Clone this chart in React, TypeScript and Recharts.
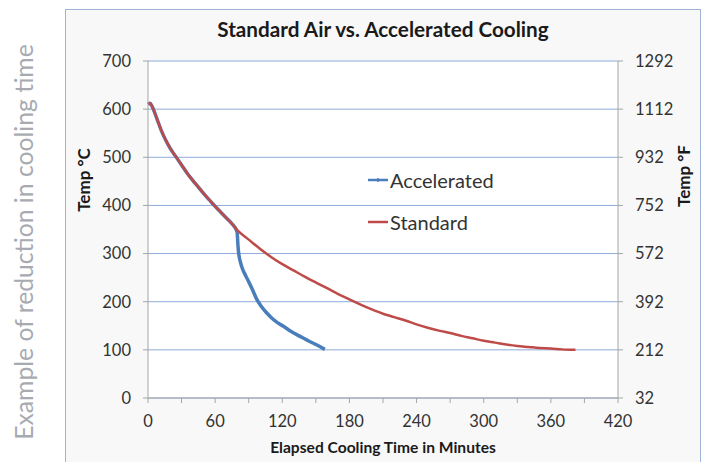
import React from "react";
import {
  LineChart,
  Line,
  XAxis,
  YAxis,
  CartesianGrid,
} from "recharts";

// elapsed minutes / temp °C
const standardTime = [0, 2, 4, 8, 12, 16, 20, 25, 30, 35, 40, 45, 50, 55, 60, 65, 70, 75, 80, 90, 100, 110, 120, 130, 140, 150, 160, 170, 180, 190, 200, 210, 220, 230, 240, 250, 260, 270, 280, 290, 300, 310, 320, 330, 340, 350, 360, 370, 382];
const standardTemp = [610, 612, 604, 580, 555, 535, 518, 501, 484, 467, 452, 438, 424, 411, 398, 386, 374, 362, 348, 329, 310, 293, 278, 265, 252, 240, 228, 216, 205, 194, 184, 175, 168, 161, 153, 146, 140, 135, 129, 124, 119, 115, 111, 108, 106, 104, 103, 101, 100];

const accelTime = [0, 2, 4, 8, 12, 16, 20, 25, 30, 35, 40, 45, 50, 55, 60, 65, 70, 75, 79.5, 80, 80.3, 80.7, 81.3, 82.5, 84, 86, 89, 93, 97, 101, 106, 111, 116, 121, 128, 136, 144, 151, 158];
const accelTemp = [610, 612, 604, 580, 555, 535, 518, 501, 484, 467, 452, 438, 424, 411, 398, 386, 374, 362, 346, 333, 320, 308, 296, 283, 271, 260, 246, 227, 206, 191, 177, 165, 156, 149, 138, 128, 118, 110, 101];

const xTicks = [0, 30, 60, 90, 120, 150, 180, 210, 240, 270, 300, 330, 360, 390, 420];
const cTicks = [0, 100, 200, 300, 400, 500, 600, 700];
const fTicks = [32, 212, 392, 572, 752, 932, 1112, 1292];

const standardData = standardTime.map((t, i) => ({ t, temp: standardTemp[i] }));
const accelData = accelTime.map((t, i) => ({ t, temp: accelTemp[i] }));

const FONT = "Lato, 'Open Sans', sans-serif";
const BLUE = "#4a7ebb";
const RED = "#be4b48";
const GRID = "#8eaadb";
const AXIS = "#a6a6a6";

const legendItems = [
  { name: "Accelerated", color: BLUE },
  { name: "Standard", color: RED },
];

const LegendBox = () => (
  <div style={{ position: "absolute", left: 368, top: 159, fontFamily: FONT, fontSize: 20, color: "#333" }}>
    {legendItems.map((e) => (
      <div key={e.name} style={{ display: "flex", alignItems: "center", height: 42 }}>
        <svg width={22} height={10}>
          <line x1={0} y1={5} x2={20} y2={5} stroke={e.color} strokeWidth={2.5} />
          {e.name === "Accelerated" && (
            <line x1={10} y1={3} x2={10} y2={7} stroke={e.color} strokeWidth={1.5} />
          )}
        </svg>
        <span>{e.name}</span>
      </div>
    ))}
  </div>
);

export default function App() {
  return (
    <div style={{ position: "fixed", left: 0, top: 0, width: 708, height: 462, background: "#fff", overflow: "hidden" }}>
      <svg width={60} height={462} style={{ position: "absolute", left: 0, top: 0 }}>
        <text
          transform="rotate(-90)"
          x={-242}
          y={33}
          textAnchor="middle"
          fill="#a7abb1"
          fontFamily={FONT}
          fontSize={24.7}
        >
          Example of reduction in cooling time
        </text>
      </svg>
      <div
        style={{
          position: "absolute",
          left: 65,
          top: 9,
          width: 636,
          height: 470,
          border: "1px solid #9fb4da",
          background: "#f8f8f8",
          boxSizing: "border-box",
        }}
      />
      <div
        style={{
          position: "absolute",
          left: 0,
          top: 17,
          width: 708,
          textAlign: "center",
          paddingLeft: 58,
          boxSizing: "border-box",
          fontFamily: FONT,
          fontWeight: 700,
          fontSize: 20.7,
          color: "#1a1a1a",
        }}
      >
        Standard Air vs. Accelerated Cooling
      </div>
      <div style={{ position: "absolute", left: 0, top: 0 }}>
        <LineChart
          width={708}
          height={462}
          margin={{ top: 61, right: 0, bottom: 34, left: 0 }}
        >
          <CartesianGrid horizontal vertical={false} stroke={GRID} fill="#fff" yAxisId="c" />
          <XAxis
            type="number"
            dataKey="t"
            height={30}
            domain={[0, 420]}
            ticks={xTicks}
            interval={0}
            tickFormatter={(v: number) => (v % 60 === 0 ? String(v) : "")}
            tickSize={5}
            tickMargin={12}
            stroke={AXIS}
            tick={{ fill: "#333", fontFamily: FONT, fontSize: 16.5 }}
            allowDuplicatedCategory={false}
          />
          <YAxis
            yAxisId="c"
            width={148}
            domain={[0, 700]}
            ticks={cTicks}
            interval={0}
            tickSize={5}
            tickMargin={12}
            stroke={AXIS}
            tick={{ fill: "#333", fontFamily: FONT, fontSize: 16.5 }}
          />
          <YAxis
            yAxisId="f"
            orientation="right"
            width={90}
            type="number"
            domain={[32, 1292]}
            allowDataOverflow
            ticks={fTicks}
            interval={0}
            tickSize={5}
            tickMargin={12}
            stroke={AXIS}
            tick={{ fill: "#333", fontFamily: FONT, fontSize: 16.5 }}
          />
          <Line
            yAxisId="f"
            data={standardData}
            dataKey="tempF"
            stroke="none"
            dot={false}
            legendType="none"
            isAnimationActive={false}
          />
          <Line
            yAxisId="c"
            data={accelData}
            dataKey="temp"
            name="Accelerated"
            type="monotone"
            stroke={BLUE}
            strokeWidth={3.5}
            dot={false}
            isAnimationActive={false}
          />
          <Line
            yAxisId="c"
            data={standardData}
            dataKey="temp"
            name="Standard"
            type="monotone"
            stroke={RED}
            strokeWidth={2.5}
            dot={false}
            isAnimationActive={false}
          />
        </LineChart>
      </div>
      <LegendBox />
      <svg width={708} height={462} style={{ position: "absolute", left: 0, top: 0, pointerEvents: "none" }}>
        <text
          transform="rotate(-90)"
          x={-180}
          y={90}
          textAnchor="middle"
          fontFamily={FONT}
          fontWeight={700}
          fontSize={17}
          fill="#1a1a1a"
        >
          Temp °C
        </text>
        <text
          transform="rotate(-90)"
          x={-176}
          y={690}
          textAnchor="middle"
          fontFamily={FONT}
          fontWeight={700}
          fontSize={17}
          fill="#1a1a1a"
        >
          Temp °F
        </text>
        <text
          x={383}
          y={453}
          textAnchor="middle"
          fontFamily={FONT}
          fontWeight={700}
          fontSize={15.6}
          fill="#1a1a1a"
        >
          Elapsed Cooling Time in Minutes
        </text>
      </svg>
    </div>
  );
}
